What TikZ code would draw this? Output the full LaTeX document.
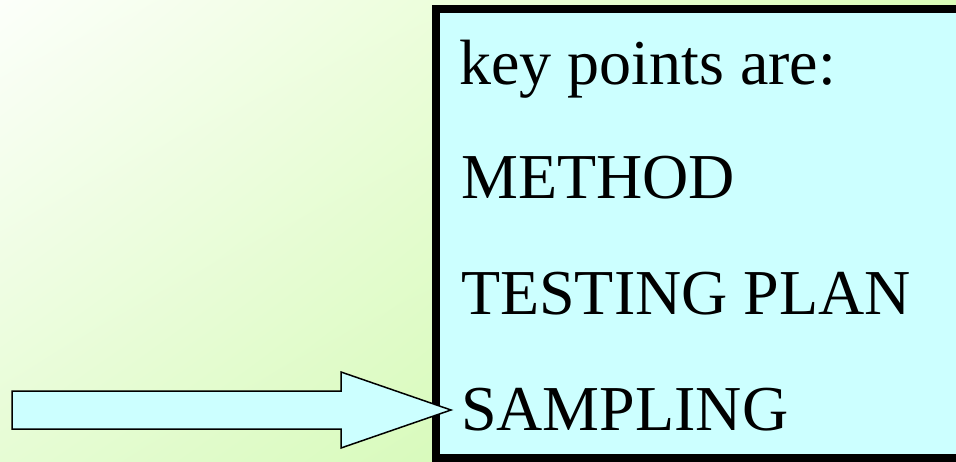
\documentclass[tikz,border=0pt]{standalone}
\usepackage{fontspec}
\usetikzlibrary{shadings}
\setmainfont{Liberation Serif}
\definecolor{bgUL}{HTML}{FCFFFA}
\definecolor{bgUR}{HTML}{DAFCB8}
\definecolor{bgLL}{HTML}{E6FCD4}
\definecolor{bgLR}{HTML}{C8F8A0}
\definecolor{boxfill}{HTML}{CCFFFF}
\tikzset{
  keybox/.style={draw=black, line width=8pt, fill=boxfill},
  blockarrow/.style={draw=black, line width=1.5pt, fill=boxfill, line join=miter},
  keytext/.style={anchor=base west, inner sep=0pt, font=\fontsize{64}{70}\selectfont}
}
\begin{document}
\begin{tikzpicture}[x=1pt,y=-1pt]
\useasboundingbox (0,0) rectangle (956,462);
\clip (0,0) rectangle (956,462);
\shade[upper left=bgUL, upper right=bgUR, lower left=bgLL, lower right=bgLR] (0,0) rectangle (956,462);
\draw[keybox] (435.5,9) rectangle (990,458);
\node[keytext] (t1) at (459,85) {key points are:};
\node[keytext] (t2) at (461,199) {METHOD};
\node[keytext] (t3) at (461,315) {TESTING PLAN};
\node[keytext] (t4) at (461,430) {SAMPLING};
\coordinate (tip) at (451,410);
\draw[blockarrow] (12,391) -- (341,391) -- (341,372) -- (tip) -- (341,448) -- (341,429) -- (12,429) -- cycle;
\end{tikzpicture}
\end{document}
